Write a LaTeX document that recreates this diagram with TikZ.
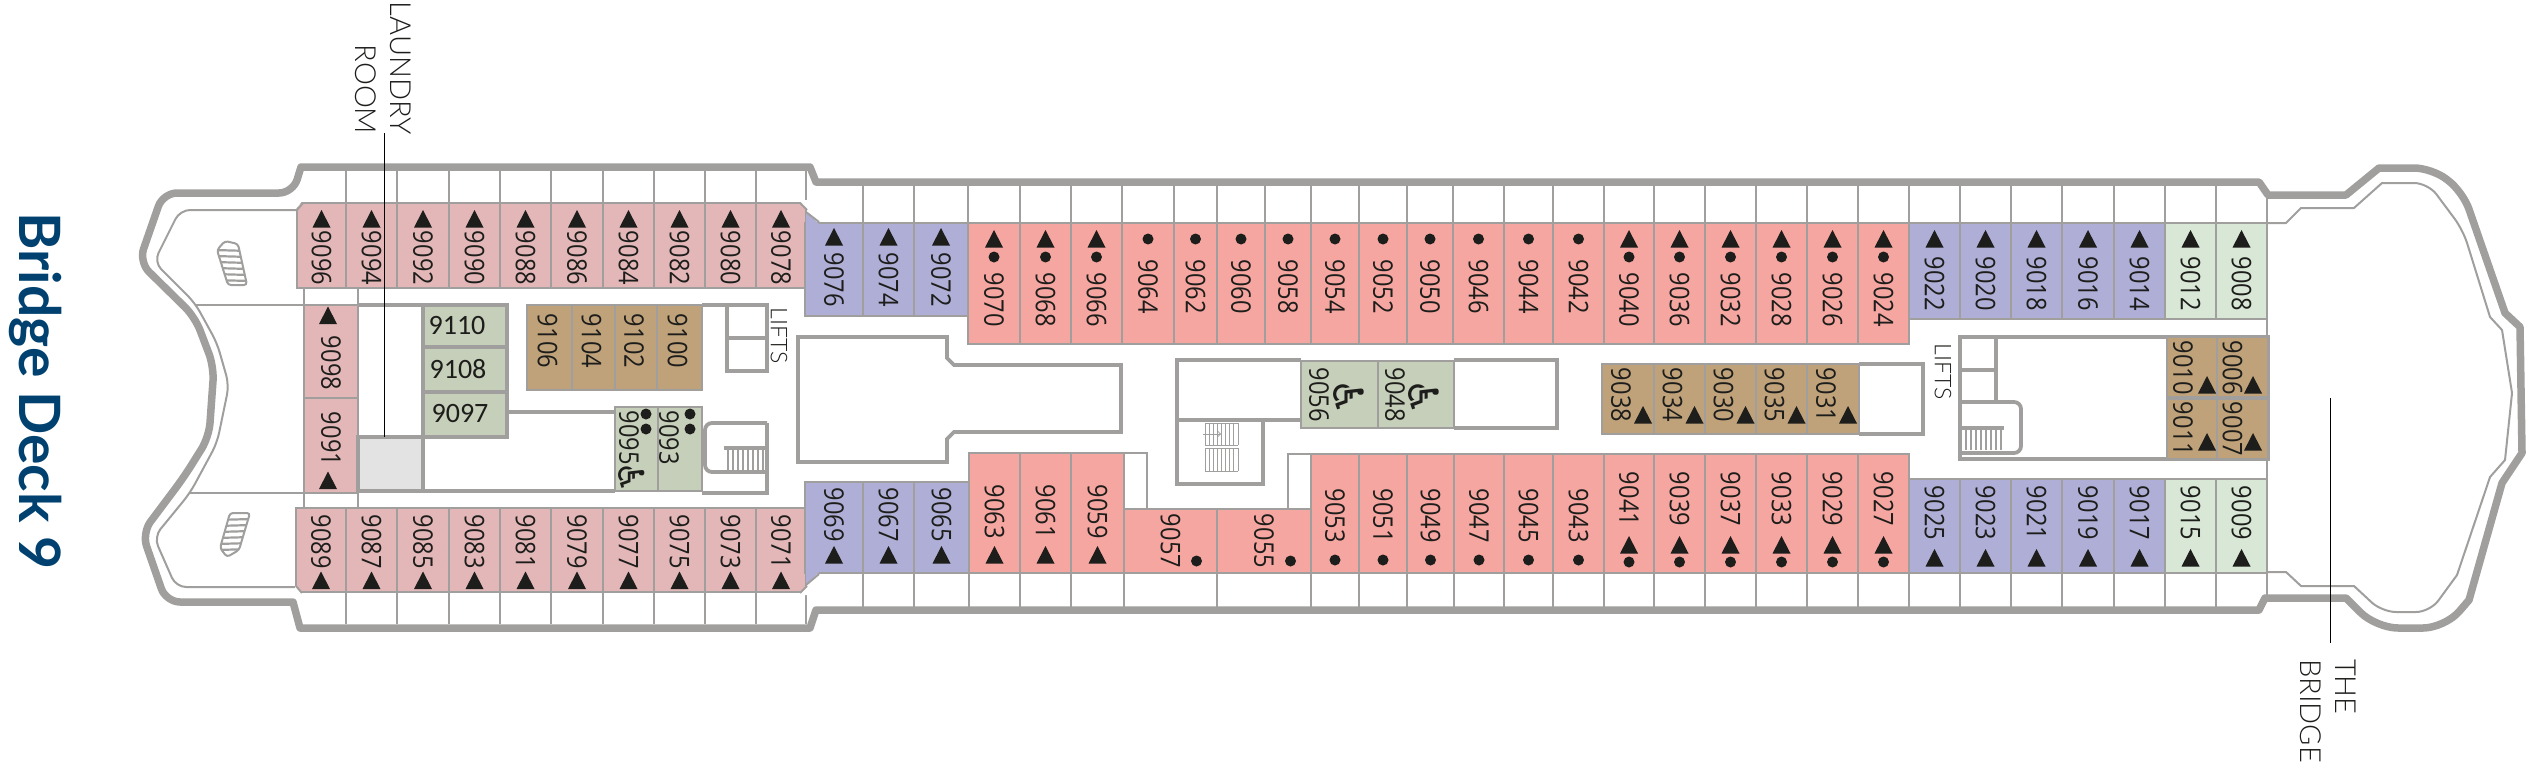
\documentclass[tikz,border=0pt]{standalone}
\usepackage{fontspec}
\setmainfont{Lato}
\newfontfamily\rf[FakeStretch=0.875]{Open Sans}
\newfontfamily\cf{Carlito}
\newfontfamily\lf{Lato Light}
\newfontfamily\df{DejaVu Sans}
\definecolor{wallc}{HTML}{A09F9D}
\definecolor{rosec}{HTML}{E3B7B8}
\definecolor{bluec}{HTML}{AEAED6}
\definecolor{salmc}{HTML}{F6A6A0}
\definecolor{grnc}{HTML}{D9E8D6}
\definecolor{tanc}{HTML}{BFA27A}
\definecolor{sagec}{HTML}{C6CFB9}
\definecolor{lgrey}{HTML}{E3E3E3}
\definecolor{inkc}{HTML}{1D1D1B}
\definecolor{titlec}{HTML}{004170}
\tikzset{
  wall/.style={draw=wallc,line width=2.8pt},
  wallthick/.style={draw=wallc,line width=3.8pt},
  wallthin/.style={draw=wallc,line width=2pt},
  hullline/.style={draw=wallc,line width=7.5pt,line join=round},
  stairline/.style={draw=wallc,line width=1pt},
  numtext/.style={rotate=-90,inner sep=0pt,text=inkc,font=\rf\fontsize{27}{30}\selectfont},
  uptext/.style={inner sep=0pt,text=inkc,font=\cf\fontsize{28}{32}\selectfont},
  labtext/.style={rotate=-90,inner sep=0pt,text=inkc,font=\lf\fontsize{29}{35}\selectfont},
  lifttext/.style={rotate=-90,inner sep=0pt,text=inkc,font=\lf\fontsize{23}{26}\selectfont},
  wheel/.style={rotate=-90,inner sep=0pt,text=inkc,font=\df\fontsize{42}{44}\selectfont},
  leader/.style={draw=black,line width=0.8pt}
}
\newcommand{\tri}[2]{\fill[inkc] ({#1-9},{#2+8.5})--({#1},{#2-9})--({#1+9},{#2+8.5})--cycle;}
\newcommand{\dotm}[2]{\fill[inkc] ({#1},{#2}) circle[radius=5.5pt];}
\def\nshift{0}
\newcommand{\rowrooms}[6]{\foreach \a/\b/\n in {#6}{%
  \pgfmathsetmacro\xc{(\a+\b)/2}%
  \draw[wall,fill=#1] (\a,#2) rectangle (\b,#3);%
  \node[numtext] (r\n) at ({\xc+\nshift},#4) {\n};%
  #5}}
\begin{document}
\begin{tikzpicture}[x=1pt,y=-1pt]
\useasboundingbox (0,0) rectangle (2540,766);
% title
\node[rotate=-90,inner sep=0pt,text=titlec,font=\fontsize{57}{60}\selectfont\bfseries] (title) at (36,391) {Bridge Deck 9};
% balcony separators
\foreach \x in {346,397,449,500,551,603,654,705,756,806}{\draw[wall] (\x,170)--(\x,203);}
\draw[wall] (297,203)--(806,203);
\foreach \x in {863,914,968,1020,1071,1122,1174,1217,1265,1311,1359,1407,1453,1504,1553,1604,1654,1705,1756,1807,1858,1909,1960,2011,2062,2114,2165,2216}{\draw[wall] (\x,184)--(\x,223);}
\draw[wallthin] (806,184)--(806,223) (2267,195)--(2267,223) (806,573)--(806,610) (2267,573)--(2267,598);
\foreach \x in {346,397,449,500,551,603,654,705,756,806}{\draw[wall] (\x,592)--(\x,624);}
\foreach \x in {863,914,969,1020,1071,1124,1217,1311,1359,1407,1454,1504,1553,1604,1654,1705,1756,1807,1858,1909,1960,2011,2062,2114,2165,2216}{\draw[wall] (\x,573)--(\x,608);}
% hull
\draw[hullline] (301,167)--(810,167)--(816,182)--(2259,182)--(2268,195)--(2346,195)--(2379,168)
  [rounded corners=18pt] --(2432,168)--(2463,192) [sharp corners]--(2505,313)--(2520,327)
  --(2522,453)--(2502,483)--(2469,600) [rounded corners=22pt] --(2445,628)--(2376,628) [sharp corners]
  --(2346,598)--(2265,598)--(2259,610)--(816,610)--(810,628)--(300,628)--(293,602)
  [rounded corners=14pt] --(166,602)--(142,533)--(184,477)--(209,437)--(214,367)--(195,317)--(139,262)--(163,193)--(293,193) [sharp corners]--cycle;
\draw[wallthin,rounded corners=10pt] (297,210)--(180,210)--(154,262)--(195,303)--(217,343)--(229,385)--(217,443)--(190,493)--(154,537)--(176,587)--(295,587);
\draw[wallthin,line join=round] (2268,223)--(2286,223)--(2301,208)--(2354,208)--(2382,183)
  [rounded corners=14pt] --(2428,183)--(2463,230) [sharp corners]--(2490,317)--(2502,330)--(2512,393)--(2505,460)--(2490,477)
  --(2457,575) [rounded corners=14pt] --(2430,612)--(2382,612) [sharp corners]--(2354,586)--(2301,586)--(2286,572)--(2268,572);
% stern stairs
\begin{scope}
\clip[rounded corners=3pt] (228,285)--(247,285)--(238,244)--(225,241)--(217,250)--cycle;
\foreach \y in {250,256,262,268,274,280}{\draw[stairline,line width=2.2pt] (214,\y)--(250,{\y+1});}
\end{scope}
\draw[wallthin,rounded corners=3pt] (228,285)--(247,285)--(238,244)--(225,241)--(217,250)--cycle;
\begin{scope}
\clip[rounded corners=3pt] (230,513)--(250,513)--(239,550)--(227,557)--(220,548)--cycle;
\foreach \y in {520,526,532,538,544,550}{\draw[stairline,line width=2.2pt] (216,\y)--(252,{\y-1});}
\end{scope}
\draw[wallthin,rounded corners=3pt] (230,513)--(250,513)--(239,550)--(227,557)--(220,548)--cycle;
% rear cross walls
\draw[wallthin] (195,305)--(304,305) (190,493)--(304,493);
\draw[wall] (304,288)--(304,305) (358,288)--(358,305) (304,493)--(304,508) (358,493)--(358,508);
\draw[wallthick] (358,305)--(423,305);
% rows of cabins
\rowrooms{rosec}{203}{288}{258}{\tri{\xc}{219}}{297/346/9096,346/397/9094,397/449/9092,449/500/9090,500/551/9088,551/603/9086,603/654/9084,654/705/9082,705/756/9080,756/806/9078}
\rowrooms{rosec}{508}{592}{541.5}{\tri{\xc}{580.5}}{296/346/9089,346/397/9087,397/449/9085,449/500/9083,500/551/9081,551/603/9079,603/654/9077,654/705/9075,705/756/9073,756/806/9071}
\rowrooms{rosec}{305}{398}{363}{\tri{\xc-3}{315.5}}{304/358/9098}
\rowrooms{rosec}{398}{493}{439}{\tri{\xc-3}{480.5}}{304/358/9091}
\fill[white] (296,200)--(303,200)--(296,209)--cycle (807,200)--(799,200)--(807,209)--cycle (295,595)--(303,595)--(295,586)--cycle (807,595)--(799,595)--(807,586)--cycle;
\draw[wallthin] (297,210)--(303,203) (800,203)--(807,210) (296,586)--(302,593) (800,593)--(807,586);
% top row
\rowrooms{bluec}{223}{316}{279.5}{\tri{\xc}{237}}{805/863/9076,863/914/9074,914/968/9072}
\rowrooms{salmc}{223}{344}{299.5}{\tri{\xc}{239}\dotm{\xc}{257}}{968/1020/9070,1020/1071/9068,1071/1122/9066}
\rowrooms{salmc}{223}{344}{286.5}{\dotm{\xc}{239}}{1122/1174/9064,1174/1217/9062,1217/1265/9060,1265/1311/9058,1311/1359/9054,1359/1407/9052,1407/1453/9050,1453/1504/9046,1504/1553/9044,1553/1604/9042}
\rowrooms{salmc}{223}{344}{299.5}{\tri{\xc}{239}\dotm{\xc}{257}}{1604/1654/9040,1654/1705/9036,1705/1756/9032,1756/1807/9028,1807/1858/9026,1858/1909/9024}
\rowrooms{bluec}{223}{319}{283.5}{\tri{\xc}{239}}{1909/1960/9022,1960/2011/9020,2011/2062/9018,2062/2114/9016,2114/2165/9014}
\rowrooms{grnc}{223}{319}{283.5}{\tri{\xc}{239}}{2165/2216/9012,2216/2267/9008}
% bottom row
\rowrooms{bluec}{482}{573}{514.5}{\tri{\xc}{555}}{805/863/9069,863/914/9067,914/969/9065}
\rowrooms{salmc}{453}{573}{511.5}{\tri{\xc}{555}}{969/1020/9063,1020/1071/9061,1071/1124/9059}
\draw[wall] (1124,453)--(1147,453)--(1147,509) (1288,509)--(1288,454)--(1311,454);
\rowrooms{salmc}{509}{573}{541}{\dotm{\b-20.5}{561}}{1124/1217/9057,1217/1311/9055}
\rowrooms{salmc}{454}{573}{515.5}{\dotm{\xc}{560}}{1311/1359/9053,1359/1407/9051,1407/1454/9049,1454/1504/9047,1504/1553/9045,1553/1604/9043}
\rowrooms{salmc}{454}{573}{499}{\tri{\xc}{545}\dotm{\xc}{562}}{1604/1654/9041,1654/1705/9039,1705/1756/9037,1756/1807/9033,1807/1858/9029,1858/1909/9027}
\rowrooms{bluec}{479}{573}{513}{\tri{\xc}{558}}{1909/1960/9025,1960/2011/9023,2011/2062/9021,2062/2114/9019,2114/2165/9017}
\rowrooms{grnc}{479}{573}{513}{\tri{\xc}{558}}{2165/2216/9015,2216/2267/9009}
% wedges of blue
\fill[bluec] (806,224)--(819,224)--(806,212)--cycle (806,572)--(819,572)--(806,585)--cycle;
\draw[wallthin] (806,212)--(819,222) (806,585)--(819,574);
% laundry block
\draw[wallthick,fill=lgrey] (358,437) rectangle (423,491);
\draw[wallthick] (423,491)--(615,491) (507,412)--(615,412);
\foreach \p/\q/\n/\tx in {305/347/9110/457,347/392/9108/458,392/437/9097/460}{%
  \draw[wallthick,fill=sagec] (423,\p) rectangle (507,\q);
  \node[uptext] (r\n) at (\tx,{(\p+\q)/2-0.5}) {\n};}
\def\nshift{-2}
\rowrooms{tanc}{305}{390}{341}{}{527/572/9106,572/615/9104,615/657/9102,657/702/9100}
\def\nshift{-7.5}
\rowrooms{sagec}{407}{491}{437.5}{\dotm{646}{414}\dotm{646}{429}\node[wheel,font=\df\fontsize{36}{38}\selectfont] (w9095) at (632,478) {♿};}{615/658/9095}
\def\nshift{-11}
\rowrooms{sagec}{407}{491}{437.5}{\dotm{690}{414}\dotm{690}{429}}{658/702/9093}
\def\nshift{0}
% left lifts and stair
\draw[wallthick] (702,305)--(767,305)--(767,371)--(727,371)--(727,305) (727,338)--(767,338);
\draw[wallthick] (702,493)--(767,493)--(767,423);
\draw[wallthick,rounded corners=7pt] (767,423)--(705,423)--(705,472)--(767,472);
\draw[wallthick] (724,448)--(765,448);
\foreach \x in {728,733,738,743,748,753,758,763}{\draw[stairline,line width=1.6pt] (\x,448)--(\x,470);}
\node[lifttext] (liftA) at (779,336) {LIFTS};
% centre block
\draw[wallthick] (798,337)--(947,337)--(947,358)--(954,365)--(1121,365)--(1121,432)--(954,432)--(947,439)--(947,462)--(798,462)--cycle;
% central stair block
\draw[wallthick] (1301,360)--(1177,360)--(1177,484)--(1263,484)--(1263,420) (1177,420)--(1301,420);
\foreach \x in {1205,1209,1213,1217,1221,1225,1229,1233,1238}{\draw[stairline] (\x,423)--(\x,445) (\x,448)--(\x,471);}
\draw[stairline] (1205,423)--(1238,423) (1205,445)--(1238,445) (1205,448)--(1238,448) (1205,471)--(1238,471);
\draw[stairline,->] (1203,434)--(1221,434);
\def\nshift{-20.5}
\rowrooms{sagec}{361}{428}{394.5}{\node[wheel] (w9056) at (1349,397) {♿};}{1301/1378/9056}
\def\nshift{-21}
\rowrooms{sagec}{361}{428}{394.5}{\node[wheel] (w9048) at (1424,397) {♿};}{1378/1454/9048}
\def\nshift{0}
\draw[wallthick] (1454,360)--(1557,360)--(1557,428)--(1454,428);
% centre tan
\def\nshift{-7}
\draw[wallthick] (1859,364)--(1923,364)--(1923,434)--(1859,434);
\rowrooms{tanc}{364}{434}{395}{\tri{\xc+15}{415}}{1602/1654/9038,1654/1705/9034,1705/1756/9030,1756/1807/9035,1807/1859/9031}
\def\nshift{0}
% right lifts block
\draw[wallthick] (1960,337) rectangle (2268,459);
\draw[wallthick] (1996,337)--(1996,402) (1960,370)--(1996,370);
\draw[wallthick,rounded corners=7pt] (1960,402)--(2021,402)--(2021,453)--(1960,453);
\draw[wallthick] (1960,428)--(2004,428);
\foreach \x in {1966,1971,1976,1981,1986,1991,1996,2001}{\draw[stairline,line width=1.6pt] (\x,428)--(\x,450);}
\draw[wall] (2267,319)--(2267,337) (2267,459)--(2267,479);
\node[lifttext] (liftB) at (1943,372) {LIFTS};
\def\nshift{-9}
\rowrooms{tanc}{337}{398}{367.5}{\tri{\b-10}{385}}{2167/2217/9010}
\rowrooms{tanc}{398}{459}{429}{\tri{\b-10}{442}}{2167/2217/9011}
\def\nshift{-10}
\rowrooms{tanc}{337}{398}{367.5}{\tri{\b-15}{385}}{2217/2268/9006}
\rowrooms{tanc}{398}{459}{429}{\tri{\b-15}{442}}{2217/2268/9007}
\def\nshift{0}
\draw[wallthick] (2167,398)--(2268,398);
% leaders and labels
\node[labtext,align=right] (laundry) at (383,68) {LAUNDRY\\ROOM};
\node[labtext,align=left] (bridge) at (2328,711) {THE\\BRIDGE};
\coordinate (laundryA) at (384,133);
\coordinate (laundryB) at (384,437);
\coordinate (bridgeA) at (2330,398);
\coordinate (bridgeB) at (2330,643);
\draw[leader] (laundryA)--(laundryB);
\draw[leader] (bridgeA)--(bridgeB);
\end{tikzpicture}
\end{document}
